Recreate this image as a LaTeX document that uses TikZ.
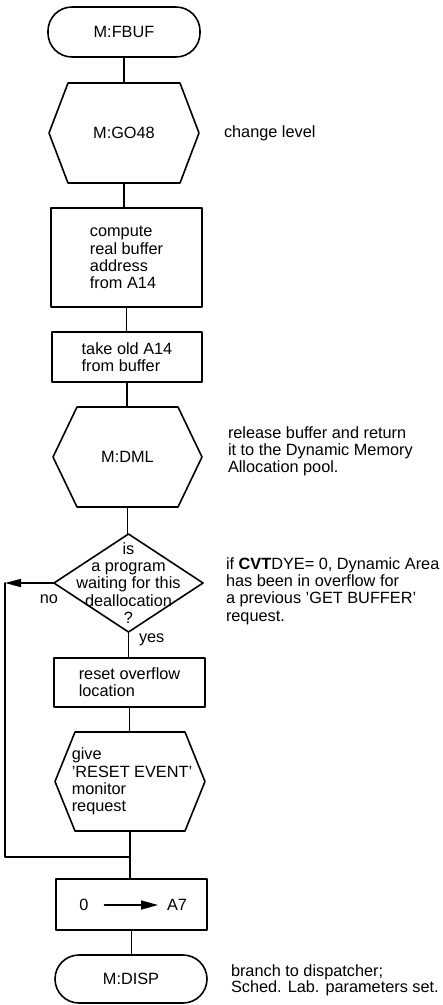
\documentclass[tikz,border=0pt]{standalone}
\usepackage{fontspec}
\setmainfont{Liberation Sans}
\usetikzlibrary{calc,arrows.meta}
\tikzset{
  every node/.style={font=\fontsize{16.3}{17.2}\selectfont, inner sep=0pt, outer sep=0pt},
  ln/.style={line width=1.6pt, line cap=round, line join=round},
  boxnode/.style={draw, ln, align=left},
  termnode/.style={draw, ln, rounded corners=24pt},
  shapenode/.style={align=center},
  sidetext/.style={anchor=west, align=left},
}
\newcommand{\hexpath}[2]{\draw[ln] ($(#1.north west)+(#2,0)$) -- ($(#1.north east)+(-#2,0)$) -- (#1.east) -- ($(#1.south east)+(-#2,0)$) -- ($(#1.south west)+(#2,0)$) -- (#1.west) -- cycle;}
\begin{document}
\begin{tikzpicture}[x=1pt,y=-1pt]
\useasboundingbox (0,0) rectangle (443,1005);
\fill[white] (0,0) rectangle (443,1005);

% nodes
\node[termnode, minimum width=152pt, minimum height=50pt] (t1) at (124,32) {M:FBUF};
\node[shapenode, minimum width=150pt, minimum height=100pt] (h1) at (124,133) {M:GO48};
\hexpath{h1}{19}
\node[boxnode, minimum width=151pt, minimum height=99pt] (b1) at (126.5,257.5) {compute\\real buffer\\address\\from A14};
\node[boxnode, minimum width=150pt, minimum height=50pt] (b2) at (127,357) {take old A14\\from buffer};
\node[shapenode, minimum width=149pt, minimum height=100pt] (h2) at (127.5,457) {M:DML};
\hexpath{h2}{24}
\node[shapenode, minimum width=149pt, minimum height=98pt] (d) at (128.5,583) {is\\a program\\waiting for this\\deallocation\\?};
\draw[ln] (d.north) -- (d.east) -- (d.south) -- (d.west) -- cycle;
\node[boxnode, minimum width=151pt, minimum height=49pt] (b3) at (129.5,682.5) {reset overflow\\location};
\node[align=left, minimum width=150pt, minimum height=99pt] (h3) at (130,781.5) {\hspace*{4pt}give\\\hspace*{4pt}'RESET EVENT'\\\hspace*{4pt}monitor\\\hspace*{4pt}request};
\hexpath{h3}{20}
\node[draw, ln, minimum width=151pt, minimum height=51pt] (b4) at (131.5,904.5) {};
\node (zero) at (84,905) {0};
\node (a7) at (177,905) {A7};
\node[termnode, minimum width=152pt, minimum height=48pt] (t2) at (131,979) {M:DISP};

\coordinate (join) at (130,857);
\coordinate (lc1) at (5,583);
\coordinate (lc2) at (5,857);

% connectors
\draw[ln] (t1.south) -- (t1.south |- h1.north);
\draw[ln] (h1.south) -- (h1.south |- b1.north);
\draw[ln] (b1.south) -- (b1.south |- b2.north);
\draw[ln] (b2.south) -- (b2.south |- h2.north);
\draw[ln] (h2.south) -- (h2.south |- d.north);
\draw[ln] (d.south) -- (d.south |- b3.north);
\draw[ln] (b3.south) -- (b3.south |- h3.north);
\draw[ln] (h3.south) -- (join) -- (join |- b4.north);
\draw[ln] (b4.south) -- (b4.south |- t2.north);
\draw[ln, -{Triangle[length=16pt,width=8pt]}] (d.west) -- (lc1);
\draw[ln] (lc1) -- (lc2) -- (join);
\draw[ln, -{Triangle[length=17pt,width=9pt]}, shorten <=16pt, shorten >=9pt] (zero.east) -- (a7.west);

% labels
\node (no) at (49,599) {no};
\node[anchor=west] (yes) at (139,640) {yes};
\node[sidetext] (s1) at (224,133) {change level};
\node[sidetext] (s2) at (228,451.5) {release buffer and return\\it to the Dynamic Memory\\Allocation pool.};
\node[sidetext] (s3) at (226,591) {if \textbf{CVT}DYE= 0, Dynamic Area\\has been in overflow for\\a previous 'GET BUFFER'\\request.};
\node[sidetext, font=\fontsize{16.3}{16}\selectfont] (s4) at (231,980) {branch to dispatcher;\\Sched. Lab. parameters set.};
\end{tikzpicture}
\end{document}
